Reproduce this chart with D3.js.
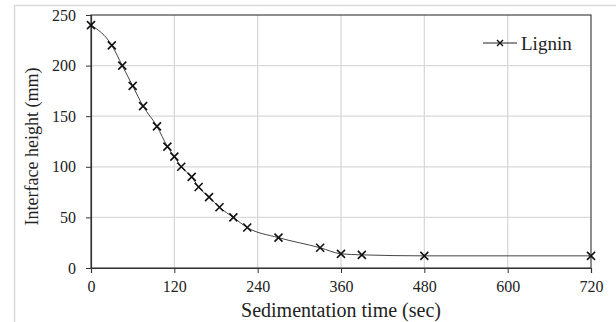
<!DOCTYPE html>
<html>
<head>
<meta charset="utf-8">
<script src="https://cdn.jsdelivr.net/npm/d3@7"></script>
<style>
  body { margin: 0; background: #fff; }
  svg text { font-family: 'Liberation Serif', 'Times New Roman', serif !important; fill: #222; }
</style>
</head>
<body>
<div id="chart"></div>
<script>
// sedimentation data
const times = [0, 30, 45, 60, 75, 95, 110, 120, 130, 145, 155, 170, 185, 205, 225, 270, 330, 360, 390, 480, 720];
const heights = [240, 220, 200, 180, 160, 140, 120, 110, 100, 90, 80, 70, 60, 50, 40, 30, 20, 14, 13, 12, 12];
const xTicks = [0, 120, 240, 360, 480, 600, 720];
const yTicks = [0, 50, 100, 150, 200, 250];
const seriesName = "Lignin";

const W = 616, H = 322;
const margin = {top: 15, right: 25, bottom: 54, left: 91},
    width = W - margin.left - margin.right,
    height = H - margin.top - margin.bottom;

const root = d3.select("#chart").append("svg")
    .attr("width", W)
    .attr("height", H)
    .attr("font-family", "'Liberation Serif', serif");

// outer figure border (only left/top visible)
root.append("path")
    .attr("d", `M14.5,${H} V5.5 H${W}`)
    .attr("fill", "none")
    .attr("stroke", "#d9d9d9")
    .attr("stroke-width", 1.5);

const svg = root.append("g")
    .attr("transform", `translate(${margin.left},${margin.top})`);

const data = times.map((t, i) => ({t: t, h: heights[i]}));

const x = d3.scaleLinear().domain([0, 720]).range([0, width]);
const y = d3.scaleLinear().domain([0, 250]).range([height, 0]);

// gridlines
svg.append("g")
    .selectAll("line")
    .data(xTicks.slice(1, -1))
    .enter().append("line")
    .attr("x1", d => x(d)).attr("x2", d => x(d))
    .attr("y1", 0).attr("y2", height)
    .attr("stroke", "#d9d9d9").attr("stroke-width", 1.3);

svg.append("g")
    .selectAll("line")
    .data(yTicks.slice(1, -1))
    .enter().append("line")
    .attr("x1", 0).attr("x2", width)
    .attr("y1", d => y(d)).attr("y2", d => y(d))
    .attr("stroke", "#d9d9d9").attr("stroke-width", 1.3);

// frame
svg.append("rect")
    .attr("width", width).attr("height", height)
    .attr("fill", "none")
    .attr("stroke", "#444").attr("stroke-width", 1.2);

// axes
const xAxis = svg.append("g")
    .attr("transform", `translate(0,${height})`)
    .call(d3.axisBottom(x).tickValues(xTicks).tickSize(5).tickPadding(8));

const yAxis = svg.append("g")
    .call(d3.axisLeft(y).tickValues(yTicks).tickSize(5).tickPadding(10));

[xAxis, yAxis].forEach(a => {
    a.attr("font-family", null).attr("font-size", null);
    a.select(".domain").attr("stroke", "#333").attr("stroke-width", 1.2);
    a.selectAll(".tick line").attr("stroke", "#333");
    a.selectAll("text")
        .style("font-size", "16px")
        .attr("fill", "#222");
});

// line
const line = d3.line()
    .x(d => x(d.t))
    .y(d => y(d.h))
    .curve(d3.curveMonotoneX);

svg.append("path")
    .datum(data)
    .attr("d", line)
    .attr("fill", "none")
    .attr("stroke", "#444")
    .attr("stroke-width", 1);

// x markers
const cross = s => `M${-s},${-s}L${s},${s}M${-s},${s}L${s},${-s}`;

svg.append("g")
    .selectAll("path")
    .data(data)
    .enter().append("path")
    .attr("transform", d => `translate(${x(d.t)},${y(d.h)})`)
    .attr("d", cross(4))
    .attr("stroke", "#111")
    .attr("stroke-width", 1.6);

// legend
const leg = svg.append("g").attr("transform", `translate(${392},${28})`);
leg.append("line")
    .attr("x1", 0).attr("x2", 34)
    .attr("stroke", "#222").attr("stroke-width", 1);
leg.append("path")
    .attr("transform", "translate(17,0)")
    .attr("d", cross(3))
    .attr("stroke", "#111").attr("stroke-width", 1.4);
leg.append("text")
    .attr("x", 38).attr("y", 7)
    .style("font-size", "19px")
    .text(seriesName);

// axis titles
svg.append("text")
    .attr("x", width / 2)
    .attr("y", height + 49)
    .attr("text-anchor", "middle")
    .style("font-size", "20px")
    .text("Sedimentation time (sec)");

svg.append("text")
    .attr("transform", `translate(${-53},${height / 2 + 5}) rotate(-90)`)
    .attr("text-anchor", "middle")
    .style("font-size", "18px")
    .text("Interface height (mm)");
</script>
</body>
</html>
